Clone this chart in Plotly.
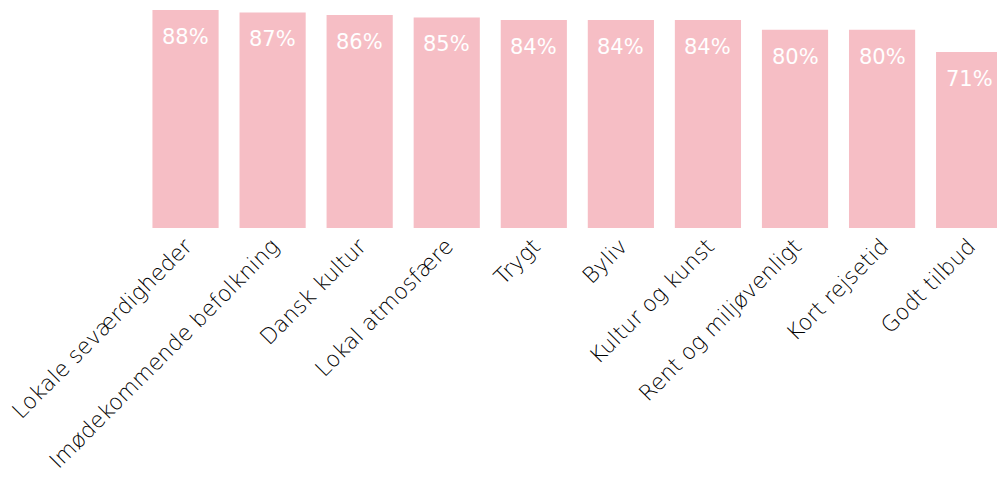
import plotly.graph_objects as go

categories = [
    "Lokale seværdigheder",
    "Imødekommende befolkning",
    "Dansk kultur",
    "Lokal atmosfære",
    "Trygt",
    "Byliv",
    "Kultur og kunst",
    "Rent og miljøvenligt",
    "Kort rejsetid",
    "Godt tilbud",
]
shares = [88, 87, 86, 85, 84, 84, 84, 80, 80, 71]

BAR_COLOR = "#F6BEC5"
FONT = "DejaVu Sans"

fig = go.Figure(
    go.Bar(
        x=categories,
        y=shares,
        marker=dict(color=BAR_COLOR, line=dict(width=0)),
        width=0.76,
        hoverinfo="skip",
    )
)

# percentage labels placed inside each bar, a little below its top
for cat, val in zip(categories, shares):
    fig.add_annotation(
        x=cat,
        y=val,
        text=f"{val}%",
        showarrow=False,
        yanchor="top",
        yshift=-13,
        font=dict(family=FONT, size=21, color="white", weight=400),
    )

fig.update_layout(
    width=997,
    height=479,
    margin=dict(l=142, r=0, t=10, b=251),
    paper_bgcolor="white",
    plot_bgcolor="white",
    showlegend=False,
    font=dict(family=FONT, color="#000000"),
)
fig.update_xaxes(
    range=[-0.5, 9.32],
    tickangle=-45,
    tickfont=dict(family=FONT, size=22, color="#000000", weight=300),
    showgrid=False,
    showline=False,
    ticks="",
)
fig.update_yaxes(range=[0, 88], visible=False, showgrid=False)

fig.write_html("out.html")
